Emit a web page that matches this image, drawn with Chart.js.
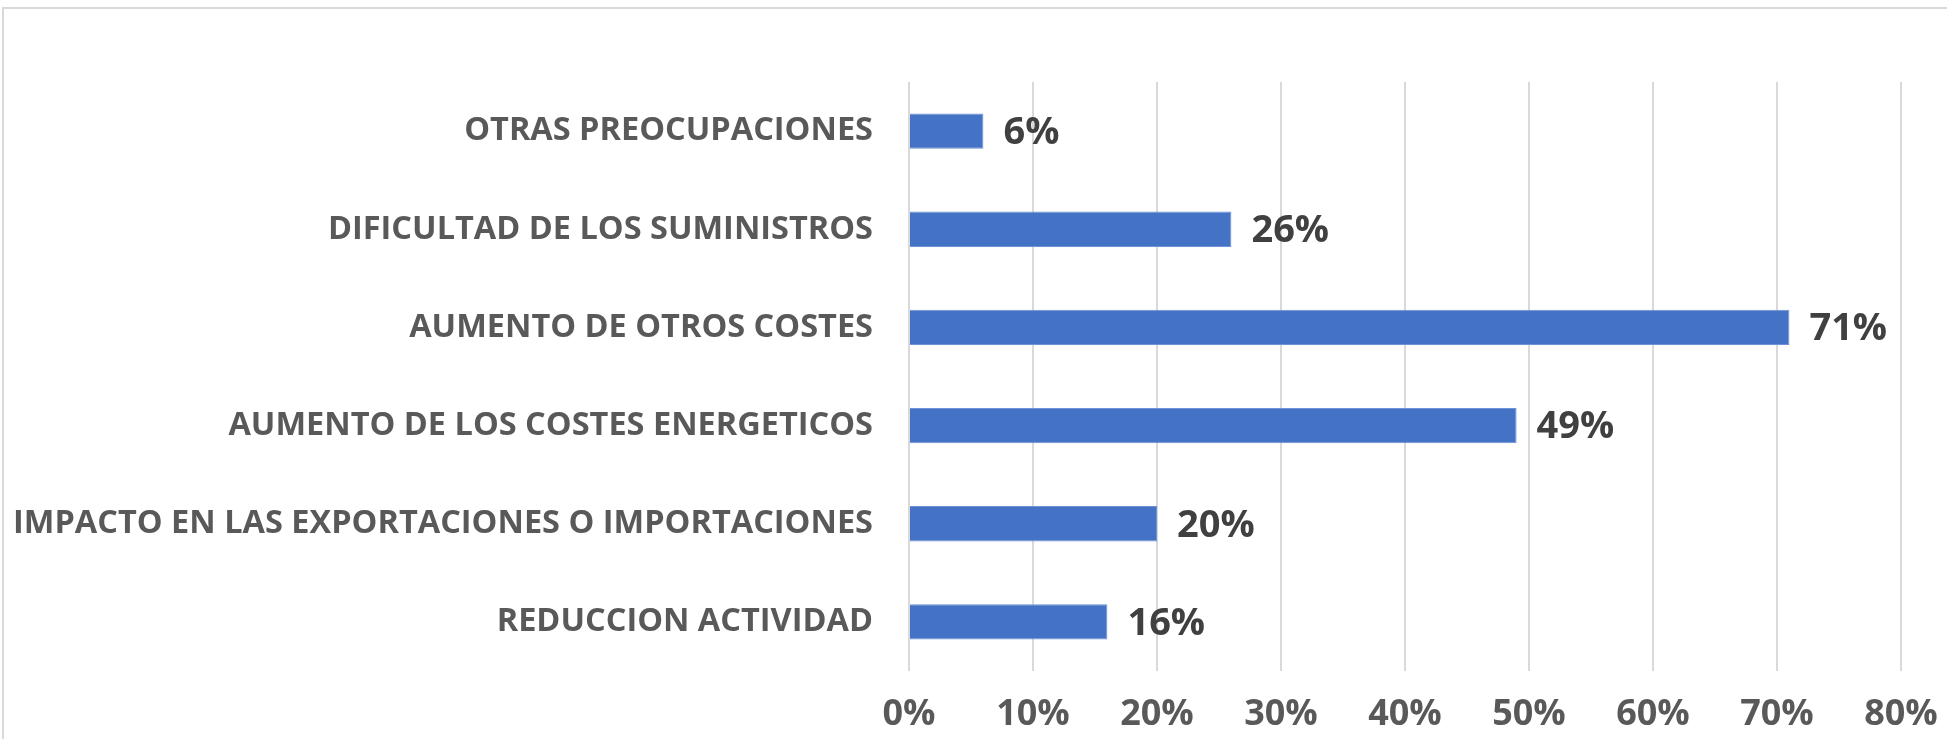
<!DOCTYPE html>
<html>
<head>
<meta charset="utf-8">
<script src="https://cdn.jsdelivr.net/npm/chart.js@4/dist/chart.umd.min.js"></script>
<style>
  html, body { margin: 0; padding: 0; background: #fff; }
  #wrap { position: relative; width: 1947px; height: 739px; }
  #frame { position: absolute; left: 2px; top: 7px; right: 0; bottom: 0;
           border-top: 2px solid #d9d9d9; border-left: 2px solid #d9d9d9; }
  canvas { position: absolute; left: 0; top: 0; }
</style>
</head>
<body>
<div id="wrap">
  <div id="frame"></div>
  <canvas id="barChart" width="1947" height="739"></canvas>
</div>
<script>
var categories = [
    "OTRAS PREOCUPACIONES",
    "DIFICULTAD DE LOS SUMINISTROS",
    "AUMENTO DE OTROS COSTES",
    "AUMENTO DE LOS COSTES ENERGETICOS",
    "IMPACTO EN LAS EXPORTACIONES O IMPORTACIONES",
    "REDUCCION ACTIVIDAD"
];
var values = [6, 26, 71, 49, 20, 16];
var axisMax = 80;
var axisStep = 10;

// value labels to the right of each bar
var barLabels = {
    id: 'barLabels',
    afterDatasetsDraw: function (chart) {
        var ctx = chart.ctx;
        var meta = chart.getDatasetMeta(0);
        ctx.save();
        ctx.font = 'bold 38px "Open Sans"';
        ctx.fillStyle = '#404040';
        ctx.textAlign = 'left';
        ctx.textBaseline = 'middle';
        meta.data.forEach(function (bar, i) {
            ctx.fillText(values[i] + '%', bar.x + 20, bar.y + 2);
        });
        ctx.restore();
    }
};

var ctx = document.getElementById("barChart");
var barChart = new Chart(ctx, {
    type: 'bar',
    data: {
        labels: categories,
        datasets: [{
            data: values,
            backgroundColor: "#4472C4",
            borderColor: "#6d93d6",
            borderWidth: 1,
            barPercentage: 0.36,
            categoryPercentage: 1
        }]
    },
    options: {
        indexAxis: 'y',
        responsive: false,
        animation: false,
        events: [],
        layout: { padding: { top: 82, right: 46, left: 0, bottom: 0 } },
        plugins: {
            legend: { display: false },
            tooltip: { enabled: false }
        },
        scales: {
            x: {
                min: 0,
                max: axisMax,
                grid: { color: "#d9d9d9", lineWidth: 2, drawTicks: false },
                border: { display: false },
                ticks: {
                    stepSize: axisStep,
                    padding: 22,
                    color: "#595959",
                    font: { family: "Open Sans", size: 36, weight: 'bold' },
                    callback: function (v) { return v + '%'; }
                },
                afterFit: function (scale) {
                    scale.height = 68;
                    scale.paddingRight = 0;
                    scale.paddingLeft = 0;
                }
            },
            y: {
                grid: { display: false, drawTicks: false },
                border: { display: false },
                ticks: {
                    padding: 36,
                    color: "#595959",
                    font: { family: "Open Sans", size: 32.5, weight: 'bold' }
                },
                afterFit: function (scale) { scale.width = 909; }
            }
        }
    },
    plugins: [barLabels]
});
</script>
</body>
</html>
